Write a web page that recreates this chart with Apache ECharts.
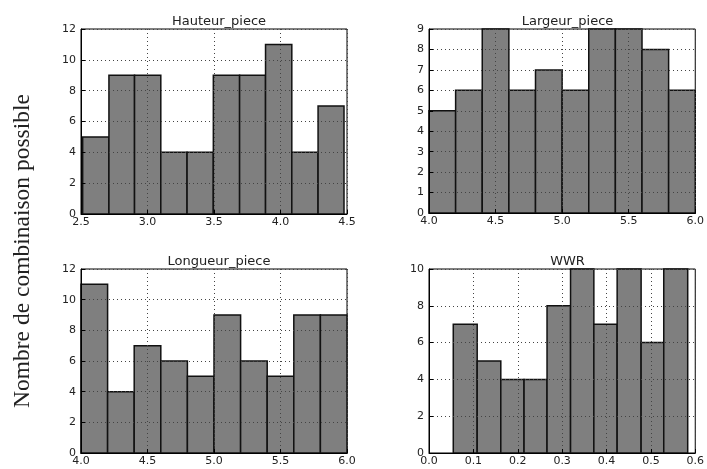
<!DOCTYPE html>
<html>
<head>
<meta charset="utf-8">
<script src="https://cdn.jsdelivr.net/npm/echarts@6/dist/echarts.min.js"></script>
<style>
  html, body { margin: 0; padding: 0; background: #fff; }
  #main { width: 707px; height: 469px; }
</style>
</head>
<body>
<div id="main"></div>
<script>
// histogram data
var hauteurEdges = [2.5125, 2.71, 2.9025, 3.1, 3.2975, 3.495, 3.6925, 3.8875, 4.085, 4.2825, 4.4775];
var hauteurCounts = [5, 9, 9, 4, 4, 9, 9, 11, 4, 7];

var largeurEdges = [4.0, 4.2, 4.4, 4.6, 4.8, 5.0, 5.2, 5.4, 5.6, 5.8, 6.0];
var largeurCounts = [5, 6, 9, 6, 7, 6, 9, 9, 8, 6];

var longueurEdges = [4.0, 4.2, 4.4, 4.6, 4.8, 5.0, 5.2, 5.4, 5.6, 5.8, 6.0];
var longueurCounts = [11, 4, 7, 6, 5, 9, 6, 5, 9, 9];

var wwrEdges = [0.0547, 0.1086, 0.1618, 0.2142, 0.266, 0.319, 0.3715, 0.424, 0.478, 0.529, 0.583];
var wwrCounts = [7, 5, 4, 4, 8, 10, 7, 10, 6, 10];

var titles = ['Hauteur_piece', 'Largeur_piece', 'Longueur_piece', 'WWR'];
var yLabel = 'Nombre de combinaison possible';

var panels = [
    {edges: hauteurEdges, counts: hauteurCounts, xmin: 2.5, xmax: 4.5, xstep: 0.5, ymax: 12, ystep: 2},
    {edges: largeurEdges, counts: largeurCounts, xmin: 4.0, xmax: 6.0, xstep: 0.5, ymax: 9, ystep: 1},
    {edges: longueurEdges, counts: longueurCounts, xmin: 4.0, xmax: 6.0, xstep: 0.5, ymax: 12, ystep: 2},
    {edges: wwrEdges, counts: wwrCounts, xmin: 0.0, xmax: 0.6, xstep: 0.1, ymax: 10, ystep: 2}
];

// plot areas (left, top, width, height)
var boxes = [
    [81, 29, 266, 185],
    [429, 29, 267, 184],
    [81, 269, 266, 184],
    [429, 269, 267, 184]
];

var gridDot = {show: true, lineStyle: {color: '#444', type: [1, 3], width: 1}};

var grid = [], xAxis = [], yAxis = [], series = [], title = [];

panels.forEach(function (p, i) {
    var b = boxes[i];
    grid.push({left: b[0], top: b[1], width: b[2], height: b[3],
        show: true, borderColor: '#000', borderWidth: 1, backgroundColor: 'transparent'});

    title.push({
        text: titles[i],
        left: b[0] + b[2] / 2, top: b[1] - 19, textAlign: 'center',
        textStyle: {fontFamily: 'DejaVu Sans', fontSize: 13, fontWeight: 'normal', color: '#222'}
    });

    xAxis.push({
        type: 'value', gridIndex: i, min: p.xmin, max: p.xmax, interval: p.xstep, z: 5,
        axisLine: {show: true, onZero: false, lineStyle: {color: '#000'}},
        axisTick: {show: true, inside: true, length: 4, lineStyle: {color: '#000'}},
        axisLabel: {fontFamily: 'DejaVu Sans', fontSize: 11, color: '#222', margin: 3,
            formatter: function (v) { return v.toFixed(1); }},
        splitLine: gridDot
    });

    yAxis.push({
        type: 'value', gridIndex: i, min: 0, max: p.ymax, interval: p.ystep, z: 5,
        axisLine: {show: true, lineStyle: {color: '#000'}},
        axisTick: {show: true, inside: true, length: 4, lineStyle: {color: '#000'}},
        axisLabel: {fontFamily: 'DejaVu Sans', fontSize: 11, color: '#222', margin: 5},
        splitLine: gridDot
    });

    var data = [];
    for (var k = 0; k < p.counts.length; k++) {
        data.push([p.edges[k], p.edges[k + 1], p.counts[k]]);
    }

    series.push({
        type: 'custom', xAxisIndex: i, yAxisIndex: i, z: 2,
        encode: {x: [0, 1], y: 2},
        data: data,
        renderItem: function (params, api) {
            var a = api.coord([api.value(0), api.value(2)]);
            var c = api.coord([api.value(1), 0]);
            return {
                type: 'rect',
                shape: {x: a[0], y: a[1], width: c[0] - a[0], height: c[1] - a[1]},
                style: {fill: '#7f7f7f', stroke: '#111', lineWidth: 1.5}
            };
        }
    });
});

var option = {
    animation: false,
    backgroundColor: '#fff',
    title: title,
    grid: grid,
    xAxis: xAxis,
    yAxis: yAxis,
    series: series,
    graphic: [{
        type: 'text',
        x: 23, y: 251, rotation: Math.PI / 2,
        style: {
            text: yLabel,
            fontFamily: 'Liberation Serif', fontSize: 23.5, fill: '#222',
            textAlign: 'center', textVerticalAlign: 'middle'
        }
    }]
};

var chart = echarts.init(document.getElementById('main'));
chart.setOption(option);
</script>
</body>
</html>
